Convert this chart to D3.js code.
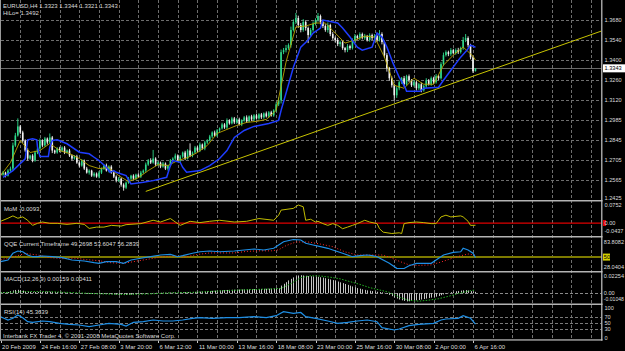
<!DOCTYPE html>
<html><head><meta charset="utf-8">
<script src="https://cdn.jsdelivr.net/npm/d3@7"></script>
<style>
body{margin:0;background:#000;}
svg{display:block;}
text{font-family:"Liberation Sans",Arial,sans-serif;font-size:6px;fill:#dcdcdc;}
text.ax{font-size:5.6px;}
</style>
</head><body>
<svg id="c" width="625" height="351"></svg>
<script>
// ---------------- DATA ----------------
const firstOpen = 1.2610;
const closes = [
1.2602,1.2616,1.2595,1.2630,1.2644,1.2805,1.2875,1.2938,1.2896,1.2840,1.2770,1.2714,1.2735,1.2700,1.2756,1.2784,
1.2840,1.2805,1.2854,1.2826,1.2861,1.2770,1.2756,1.2784,1.2770,1.2791,1.2756,1.2770,1.2735,1.2714,1.2728,1.2686,
1.2665,1.2700,1.2644,1.2616,1.2630,1.2595,1.2609,1.2588,1.2616,1.2644,1.2665,1.2630,1.2658,1.2616,1.2588,1.2560,
1.2574,1.2532,1.2511,1.2546,1.2574,1.2595,1.2574,1.2602,1.2588,1.2616,1.2630,1.2672,1.2700,1.2686,1.2714,1.2672,
1.2686,1.2658,1.2679,1.2644,1.2665,1.2700,1.2714,1.2735,1.2700,1.2728,1.2756,1.2714,1.2770,1.2735,1.2756,1.2791,
1.2770,1.2812,1.2784,1.2826,1.2840,1.2868,1.2896,1.2875,1.2910,1.2924,1.2952,1.2931,1.2980,1.2959,1.2994,1.2966,
1.2987,1.2952,1.2980,1.3001,1.2973,1.3008,1.2987,1.3015,1.2994,1.3022,1.3001,1.3029,1.3008,1.3036,1.3015,1.3050,
1.3092,1.3120,1.3456,1.3470,1.3484,1.3505,1.3610,1.3666,1.3694,1.3645,1.3610,1.3666,1.3624,1.3575,1.3610,1.3652,
1.3680,1.3708,1.3666,1.3638,1.3610,1.3645,1.3582,1.3554,1.3540,1.3512,1.3526,1.3484,1.3470,1.3498,1.3484,1.3540,
1.3568,1.3554,1.3582,1.3554,1.3568,1.3540,1.3575,1.3554,1.3568,1.3540,1.3582,1.3526,1.3435,1.3344,1.3274,1.3225,
1.3155,1.3204,1.3246,1.3274,1.3232,1.3288,1.3260,1.3225,1.3246,1.3204,1.3232,1.3190,1.3218,1.3260,1.3232,1.3274,
1.3246,1.3288,1.3274,1.3372,1.3435,1.3456,1.3442,1.3470,1.3449,1.3470,1.3456,1.3484,1.3540,1.3554,1.3505,1.3420,
1.3323,1.3343];
// wick extents beyond the body, in pips (0.0001)
const upWick = [
8,12,6,10,14,20,18,56,10,12,8,15,6,10,12,9,
14,8,11,7,28,10,6,9,12,8,10,7,11,6,9,12,
8,10,7,12,9,6,10,8,11,7,9,14,8,10,6,9,
12,7,10,8,11,6,9,7,10,12,8,14,10,16,60,9,
10,7,12,8,6,11,9,14,8,10,7,12,9,50,8,11,
10,14,7,12,9,11,8,13,10,7,12,9,14,8,11,10,
9,12,8,10,14,7,11,9,12,8,10,7,13,9,11,8,
14,20,18,15,22,12,24,18,35,16,14,20,12,10,14,18,
12,21,10,15,12,18,9,14,11,16,10,12,8,14,10,12,
14,9,12,10,15,8,12,10,14,9,28,12,10,14,9,12,
10,14,12,9,16,10,12,8,14,10,9,12,10,14,8,12,
10,15,9,14,18,12,10,14,9,12,16,10,22,28,12,9,
10,1];
const dnWick = [
10,8,12,6,9,14,10,8,12,16,10,14,9,12,8,11,
10,12,8,14,9,18,10,8,12,9,11,7,10,13,8,9,
12,8,10,7,14,9,11,8,12,10,9,7,13,8,10,12,
9,14,21,10,8,12,9,11,7,10,8,12,9,10,8,12,
9,11,8,10,14,7,9,12,8,10,9,11,7,10,12,8,
9,11,8,12,10,7,11,9,10,14,8,10,12,9,7,11,
10,8,12,9,11,7,10,12,8,9,11,10,8,12,9,10,
10,12,22,14,16,12,18,10,14,20,16,12,18,56,14,12,
10,12,16,14,12,18,15,12,16,14,18,12,16,14,12,10,
12,10,14,9,12,10,11,14,9,12,10,16,20,24,18,16,
35,18,14,12,16,10,14,12,9,16,12,14,10,12,9,11,
12,10,14,9,12,10,14,12,9,11,13,10,12,14,16,14,
12,2];

const yellowBars = [0,4,8,12,16,20,24,28,32,36,40,44,48,52,56,60,64,68,72,76,80,84,88,92,96,100,104,108,112,116,120,124,128,132,136,140,144,148,152,156,160,164,168,172,176,180,184,188,192,193];
const yellowMa = [1.2595,1.2686,1.2840,1.2756,1.2770,1.2819,1.2770,1.2749,1.2714,1.2665,1.2644,1.2651,1.2595,1.2553,1.2581,1.2630,1.2672,1.2665,1.2700,1.2721,1.2756,1.2805,1.2889,1.2917,1.2945,1.2966,1.2973,1.2987,1.3050,1.3386,1.3631,1.3638,1.3659,1.3659,1.3589,1.3519,1.3540,1.3568,1.3561,1.3421,1.3225,1.3204,1.3274,1.3232,1.3232,1.3365,1.3435,1.3491,1.3428,1.3400];

const blueBars = [1,5,10,11,13,14.7,15,16,19.4,20,21,23,27,32,36,38,40,43,44.5,46,47,51,53,58,62,67.5,69,70,73,74,75.6,81,85,89,92,95,99,103,109,113,114,116,119,122,125,127,130,131,135,137,139,142,145,147,151,153,155,157,159.5,162,164.4,165,170.5,172,178,180,183,187,189.6,191,193];
const blueMa = [1.2583,1.2630,1.2712,1.2845,1.2852,1.2845,1.2793,1.2728,1.2728,1.2793,1.2840,1.2845,1.2817,1.2758,1.2747,1.2723,1.2700,1.2653,1.2618,1.2630,1.2618,1.2595,1.2537,1.2548,1.2560,1.2583,1.2665,1.2700,1.2688,1.2653,1.2618,1.2630,1.2665,1.2714,1.2770,1.2861,1.2910,1.2938,1.2959,1.2980,1.3050,1.3169,1.3351,1.3491,1.3540,1.3589,1.3624,1.3680,1.3666,1.3659,1.3624,1.3561,1.3491,1.3470,1.3491,1.3589,1.3561,1.3491,1.3379,1.3281,1.3211,1.3183,1.3183,1.3204,1.3211,1.3260,1.3330,1.3421,1.3470,1.3505,1.3490];

const trendBars = [59, 193];
const trendPrices = [1.2485, 1.3294];

const priceTicks = [1.3680,1.3540,1.3400,1.3260,1.3120,1.2985,1.2845,1.2705,1.2565,1.2425];
const lastPrice = 1.3343;

const timeLabels = ["20 Feb 2009","24 Feb 16:00","27 Feb 08:00","3 Mar 20:00","6 Mar 12:00","11 Mar 00:00","13 Mar 16:00","18 Mar 08:00","23 Mar 00:00","25 Mar 16:00","30 Mar 08:00","2 Apr 00:00","6 Apr 16:00"];
const timeLabelBars = [0,16,32,48,64,80,96,112,128,144,160,176,192];

const momBars = [0,3,5,7,9,11,13,15,17,20,23,27,31,34,36,39,42,45,49,51,57,62,65,69,73,77,81,85,89,95,100,105,111,113,114,119,121,123,124,126,128,129,131,133,135,137,139,141,143,145,148,150,153,154,155.5,159,162,163,164,166,169,172,175,177,179,181,183,187,188,190,191,193];
const momVals = [0.0072,0.0200,0.0297,0.0200,0.0255,0.0115,-0.0098,-0.0013,0.0042,-0.0013,-0.0013,-0.0055,-0.0013,-0.0055,-0.0225,-0.0170,-0.0170,-0.0098,-0.0127,-0.0068,-0.0025,0.0115,0.0042,0.0187,-0.0098,0.0072,0.0017,0.0072,0.0115,0.0042,0.0072,0.0187,0.0115,0.0327,0.0539,0.0611,0.0752,0.0679,0.0115,0.0157,0.0042,0.0072,-0.0025,-0.0098,-0.0025,-0.0098,-0.0238,-0.0170,-0.0098,-0.0025,0.0115,0.0042,-0.0025,-0.0238,-0.0382,-0.0437,-0.0408,-0.0437,-0.0025,0.0017,0.0042,0.0017,-0.0025,-0.0025,0.0255,0.0327,0.0255,0.0297,0.0255,0.0072,-0.0098,-0.0093];
const momTicks = [0.0752, 0.00, -0.0437];

const qqeBars = [0,3,5,7,9,11,13,15,17,21,25,29,34,38,40,43,47,50,53,57,61,65,69,72,74,78,81,85,89,95,99,103,107,111,113,115,119,122,124,127,130,133,135,139,143,146,149,151,153,155.5,158,161,164,166,169,172,175,177,180,184,187,188,190,192,193];
const qqeVals = [41.1,44.4,57.3,61.7,60.3,54.0,50.7,50.7,52.1,50.7,48.8,44.4,42.5,39.2,38.0,41.1,41.1,38.0,44.4,47.7,50.7,54.0,55.3,50.7,52.7,57.3,60.3,61.7,60.3,61.7,63.6,65.5,63.6,66.9,73.2,79.6,83.8,82.8,76.5,73.2,70.0,66.9,63.6,57.3,50.7,52.7,54.0,52.7,50.7,44.4,38.0,28.4,28.04,33.4,38.0,38.0,38.0,44.4,54.0,59.2,60.3,66.9,63.6,57.3,49.27];
const qqeSigBars = [0,5,10,15,20,25,30,35,40,45,50,55,60,65,70,75,80,85,90,95,100,105,110,113,116,120,125,130,135,140,145,150,155,158,162,166,170,175,180,185,190,193];
const qqeSig = [45,50,57,54,49,47,48,45,43,39,38,42,46,50,52,50,55,58,58,58,61,62,62,64,72,79,79,75,70,60,54,54,54,50,42,35,34,35,42,50,56,53.6];
const qqeTicks = [83.8082, 50, 28.0404];

const macdHist = [
0.0010,0.0012,0.0010,0.0014,
0.0025,0.0034,0.0040,0.0042,0.0038,0.0032,0.0026,0.0020,0.0016,
0.0012,0.0014,0.0016,0.0018,0.0017,0.0019,0.0020,0.0018,0.0015,0.0014,0.0013,0.0012,0.0010,
0.0008,0.0006,0.0004,0.0002,0.0000,-0.0002,-0.0004,-0.0005,-0.0006,-0.0008,-0.0010,-0.0011,-0.0012,-0.0012,-0.0013,
-0.0012,-0.0010,-0.0010,-0.0011,-0.0013,-0.0016,-0.0018,-0.0020,-0.0022,-0.0024,-0.0022,-0.0020,-0.0018,-0.0017,-0.0015,
-0.0013,-0.0011,-0.0008,-0.0005,-0.0002,0.0001,0.0003,0.0004,0.0005,0.0005,0.0006,0.0006,0.0007,0.0008,0.0009,
0.0010,0.0010,0.0011,0.0012,0.0012,0.0013,0.0014,0.0015,0.0016,0.0017,0.0019,0.0021,0.0023,0.0025,0.0027,
0.0029,0.0031,0.0033,0.0035,0.0037,0.0038,0.0040,0.0041,0.0042,0.0043,0.0044,0.0045,0.0046,0.0047,0.0048,
0.0049,0.0050,0.0051,0.0052,0.0052,0.0053,0.0054,0.0055,0.0056,0.0057,0.0058,0.0060,
0.0064,0.0095,0.0118,0.0138,0.0160,0.0180,0.0198,0.0212,0.0222,
0.0225,0.0222,0.0218,0.0214,0.0212,0.0210,0.0208,0.0205,0.0200,0.0195,
0.0188,0.0180,0.0172,0.0164,0.0155,0.0146,0.0136,0.0126,0.0115,0.0104,0.0094,0.0084,0.0074,0.0064,
0.0056,0.0048,0.0041,0.0035,0.0030,0.0026,0.0022,0.0018,0.0014,0.0010,0.0004,
-0.0008,-0.0022,-0.0038,-0.0055,-0.0068,-0.0080,-0.0090,-0.0098,-0.0104,
-0.0102,-0.0098,-0.0094,-0.0090,-0.0086,-0.0080,-0.0074,-0.0068,-0.0062,-0.0056,-0.0050,
-0.0044,-0.0036,-0.0026,-0.0016,-0.0006,0.0004,0.0012,0.0018,0.0024,
0.0028,0.0032,0.0036,0.0038,0.0034,0.0026,0.0020,0.0016];
const macdSigBars = [0,10,20,30,40,50,60,70,80,90,100,110,114,118,122,126,130,134,138,142,146,150,154,158,162,166,170,174,178,182,186,190,193];
const macdSig = [0.0005,0.0020,0.0018,0.0006,-0.0008,-0.0016,-0.0010,0.0004,0.0012,0.0030,0.0043,0.0053,0.0060,0.0120,0.0195,0.0218,0.0215,0.0200,0.0180,0.0145,0.0110,0.0070,0.0040,0.0010,-0.0050,-0.0090,-0.0100,-0.0088,-0.0070,-0.0040,-0.0005,0.0025,0.0041];
const macdTicks = [0.02254, 0.00, -0.01048];

const rsiBars = [0,3,5,7,9,11,13,17,20,24,28,32,36,40,44,49,51,54,58,62,66,70,74,78,81,86,92,97,103,108,112,115,119,122,124,128,133,137,141,145,149,153,155,160,162,166,170,176,179,181,186,188,191,193];
const rsiVals = [70.5,59.3,65.1,76.3,67.1,53.6,51.5,55.9,53.6,48.1,44.7,42.4,36.6,42.4,48.1,44.7,39.0,51.5,53.6,59.3,55.9,55.9,59.3,65.1,67.1,65.1,67.1,67.1,70.5,67.1,73.9,87.5,82.0,85.0,70.5,65.1,55.9,48.1,51.5,55.9,59.3,53.6,33.2,25.4,28.8,40.0,44.7,48.1,59.3,62.7,65.1,73.9,65.1,45.4];
const rsiTicks = [100,70,50,30,0];

// ---------------- LAYOUT ----------------
const plotR = 601.5;
const svg = d3.select("#c");
svg.append("rect").attr("width",625).attr("height",351).attr("fill","#000");

const xs = d3.scaleLinear().domain([0,192]).range([0.6,473]);
const yP = d3.scaleLinear().domain([1.2425,1.3680]).range([200,20]);
const yMom = d3.scaleLinear().domain([-0.0437,0.0752]).range([233.5,205]);
const yQqe = d3.scaleLinear().domain([28.0404,83.8082]).range([268.5,239.5]);
const yMacd = d3.scaleLinear().domain([-0.01048,0.02254]).range([301.5,275.2]);
const yRsi = d3.scaleLinear().domain([0,100]).range([337.5,308]);

const defs = svg.append("defs");
function clip(id,y0,y1){defs.append("clipPath").attr("id",id).append("rect").attr("x",0).attr("y",y0).attr("width",plotR).attr("height",y1-y0);}
clip("cMain",0,200); clip("cMom",202,236); clip("cQqe",238,271); clip("cMacd",273,303); clip("cRsi",305,339);

const gridCol = "#6e6e6e";
const gridBars = d3.range(8, 241, 8);
svg.append("g").selectAll("line").data(gridBars).join("line")
  .attr("x1",d=>Math.round(xs(d))+0.5).attr("x2",d=>Math.round(xs(d))+0.5)
  .attr("y1",0).attr("y2",339).attr("stroke",gridCol).attr("stroke-dasharray","3,2");
svg.append("g").selectAll("line").data(priceTicks.slice(0,-1)).join("line")
  .attr("x1",1).attr("x2",plotR).attr("y1",d=>Math.round(yP(d))+0.5).attr("y2",d=>Math.round(yP(d))+0.5)
  .attr("stroke",gridCol).attr("stroke-dasharray","3,2");

// ---------------- MAIN PANEL ----------------
const gMain = svg.append("g").attr("clip-path","url(#cMain)");
gMain.append("line").attr("x1",0).attr("x2",plotR).attr("y1",Math.round(yP(lastPrice))+0.5).attr("y2",Math.round(yP(lastPrice))+0.5)
  .attr("stroke","#6a6a6a");

const candles = closes.map((c,i)=>{
  const o = i===0 ? firstOpen : closes[i-1];
  return {i, o, c, h: Math.max(o,c)+upWick[i]/10000, l: Math.min(o,c)-dnWick[i]/10000};
});
const bullCol = "#2fd98a", bearCol = "#f2f2f2";
const gC = gMain.append("g");
gC.selectAll("line").data(candles).join("line")
  .attr("x1",d=>xs(d.i)).attr("x2",d=>xs(d.i))
  .attr("y1",d=>yP(d.h)).attr("y2",d=>yP(d.l))
  .attr("stroke",d=>d.c>=d.o?bullCol:bearCol).attr("stroke-width",0.9);
gC.selectAll("rect").data(candles).join("rect")
  .attr("x",d=>xs(d.i)-0.8).attr("width",1.6)
  .attr("y",d=>yP(Math.max(d.o,d.c)))
  .attr("height",d=>Math.max(0.8, yP(Math.min(d.o,d.c))-yP(Math.max(d.o,d.c))))
  .attr("fill",d=>d.c>=d.o?bullCol:bearCol);

const tSlope = (trendPrices[1]-trendPrices[0])/(trendBars[1]-trendBars[0]);
const tEndBar = xs.invert(plotR);
gMain.append("line")
  .attr("x1",xs(trendBars[0])).attr("y1",yP(trendPrices[0]))
  .attr("x2",xs(tEndBar)).attr("y2",yP(trendPrices[0]+tSlope*(tEndBar-trendBars[0])))
  .attr("stroke","#c8c400").attr("stroke-width",1);

const lineP = d3.line().x(d=>xs(d[0])).y(d=>yP(d[1]));
gMain.append("path").datum(yellowBars.map((b,k)=>[b,yellowMa[k]]))
  .attr("d",lineP).attr("fill","none").attr("stroke","#b8a400").attr("stroke-width",0.9);
gMain.append("path").datum(blueBars.map((b,k)=>[b,blueMa[k]]))
  .attr("d",lineP).attr("fill","none").attr("stroke","#1f3dff").attr("stroke-width",1.5);

svg.append("text").attr("x",3).attr("y",8).text("EURUSD,H4  1.3323 1.3344 1.3321 1.3343");
svg.append("text").attr("x",3).attr("y",15).text("HiLo= 1.3492");

svg.append("g").selectAll("text").data(priceTicks).join("text").attr("class","ax")
  .attr("x",604.5).attr("y",d=>Math.min(yP(d),198)+2).text(d=>d.toFixed(4));
svg.append("rect").attr("x",603).attr("y",yP(lastPrice)-4).attr("width",22).attr("height",8).attr("fill","#fff");
svg.append("text").attr("class","ax").attr("x",604.5).attr("y",yP(lastPrice)+2).style("fill","#000").text(lastPrice.toFixed(4));

// ---------------- MOMENTUM ----------------
const gMom = svg.append("g").attr("clip-path","url(#cMom)");
gMom.append("line").attr("x1",0).attr("x2",plotR).attr("y1",yMom(0)).attr("y2",yMom(0)).attr("stroke","#e00000").attr("stroke-width",1.3);
gMom.append("path").datum(momBars.map((b,k)=>[b,momVals[k]]))
  .attr("d",d3.line().x(d=>xs(d[0])).y(d=>yMom(d[1])))
  .attr("fill","none").attr("stroke","#c2bc00").attr("stroke-width",1);
svg.append("text").attr("x",4).attr("y",210.5).text("MoM -0.0093");
svg.append("rect").attr("x",603).attr("y",yMom(0)-3).attr("width",3).attr("height",6).attr("fill","#e00000");
svg.append("g").selectAll("text").data(momTicks).join("text").attr("class","ax")
  .attr("x",604.5).attr("y",d=>Math.min(yMom(d),230.7)+2).text(d=>d===0?"0.00":d.toFixed(4));

// ---------------- QQE ----------------
const gQqe = svg.append("g").attr("clip-path","url(#cQqe)");
gQqe.append("line").attr("x1",0).attr("x2",plotR).attr("y1",yQqe(50)).attr("y2",yQqe(50)).attr("stroke","#7d7a00").attr("stroke-width",2);
gQqe.append("path").datum(qqeSigBars.map((b,k)=>[b,qqeSig[k]]))
  .attr("d",d3.line().x(d=>xs(d[0])).y(d=>yQqe(d[1])))
  .attr("fill","none").attr("stroke","#ff2a2a").attr("stroke-width",1).attr("stroke-dasharray","1,2");
gQqe.append("path").datum(qqeBars.map((b,k)=>[b,qqeVals[k]]))
  .attr("d",d3.line().x(d=>xs(d[0])).y(d=>yQqe(d[1])))
  .attr("fill","none").attr("stroke","#1e8fe6").attr("stroke-width",1.2);
svg.append("text").attr("x",4).attr("y",245.5).text("QQE Current Timeframe 49.2698 53.6047 56.2839");
svg.append("rect").attr("x",603).attr("y",yQqe(50)-3.5).attr("width",7).attr("height",7).attr("fill","#d4d000");
svg.append("g").selectAll("text").data(qqeTicks).join("text").attr("class","ax")
  .attr("x",603.8).attr("y",d=>(d===50?yQqe(50):(d>50?241.7:266.7))+2)
  .style("fill",d=>d===50?"#000":null)
  .text(d=>d===50?"50":d.toFixed(4));

// ---------------- MACD ----------------
const gMacd = svg.append("g").attr("clip-path","url(#cMacd)");
gMacd.append("line").attr("x1",0).attr("x2",plotR).attr("y1",Math.round(yMacd(0))+0.5).attr("y2",Math.round(yMacd(0))+0.5)
  .attr("stroke","#8a8a8a").attr("stroke-dasharray","3,2");
gMacd.selectAll("line.h").data(macdHist).join("line").attr("class","h")
  .attr("x1",(d,i)=>Math.round(xs(i))+0.5).attr("x2",(d,i)=>Math.round(xs(i))+0.5)
  .attr("y1",yMacd(0)).attr("y2",d=>yMacd(d))
  .attr("stroke","#c4c4c4").attr("stroke-width",1);
gMacd.append("path").datum(macdSigBars.map((b,k)=>[b,macdSig[k]]))
  .attr("d",d3.line().x(d=>xs(d[0])).y(d=>yMacd(d[1])))
  .attr("fill","none").attr("stroke","#22b022").attr("stroke-width",1).attr("stroke-dasharray","1.5,1.5");
svg.append("text").attr("x",4).attr("y",281).text("MACD(12,26,9) 0.00159 0.00411");
svg.append("g").selectAll("text").data(macdTicks).join("text").attr("class","ax")
  .attr("x",603.8).attr("y",d=>(d>0?275.5:(d===0?293.3:298.6))+2)
  .style("font-size",d=>d<0?"5.1px":null)
  .text(d=>d===0?"0.00":d.toFixed(5));

// ---------------- RSI ----------------
const gRsi = svg.append("g").attr("clip-path","url(#cRsi)");
gRsi.selectAll("line").data([70,50,30]).join("line")
  .attr("x1",0).attr("x2",plotR).attr("y1",d=>Math.round(yRsi(d))+0.5).attr("y2",d=>Math.round(yRsi(d))+0.5)
  .attr("stroke","#7a7a7a").attr("stroke-dasharray","3,2");
gRsi.append("path").datum(rsiBars.map((b,k)=>[b,rsiVals[k]]))
  .attr("d",d3.line().x(d=>xs(d[0])).y(d=>yRsi(d[1])))
  .attr("fill","none").attr("stroke","#1e8fe6").attr("stroke-width",1.2);
svg.append("text").attr("x",4).attr("y",314).text("RSI(14) 45.3639");
svg.append("text").attr("x",3).attr("y",337.5).text("Interbank FX Trader 4, © 2001-2008 MetaQuotes Software Corp.");
svg.append("g").selectAll("text").data(rsiTicks).join("text").attr("class","ax")
  .attr("x",604.5).attr("y",d=>yRsi(d)+2).text(d=>d);

// ---------------- FRAME ----------------
const sepCol = "#b4b4b4";
[200,236,271,303.5].forEach(y=>svg.append("rect").attr("x",0).attr("y",y).attr("width",plotR+1).attr("height",1.5).attr("fill",sepCol));
svg.append("rect").attr("x",0).attr("y",339.3).attr("width",plotR+1).attr("height",1.3).attr("fill",sepCol);
svg.append("rect").attr("x",601.2).attr("y",0).attr("width",1.2).attr("height",340.6).attr("fill","#c8c8c8");
svg.append("rect").attr("x",0).attr("y",0).attr("width",1).attr("height",340.6).attr("fill","#9a9a9a");

const gT = svg.append("g");
gT.selectAll("line").data(timeLabelBars).join("line")
  .attr("x1",d=>Math.round(xs(d))+0.5).attr("x2",d=>Math.round(xs(d))+0.5)
  .attr("y1",340.6).attr("y2",343).attr("stroke","#c8c8c8");
gT.selectAll("text").data(timeLabels).join("text")
  .attr("x",(d,k)=>xs(timeLabelBars[k])+1.5).attr("y",349).text(d=>d);
</script>
</body></html>
